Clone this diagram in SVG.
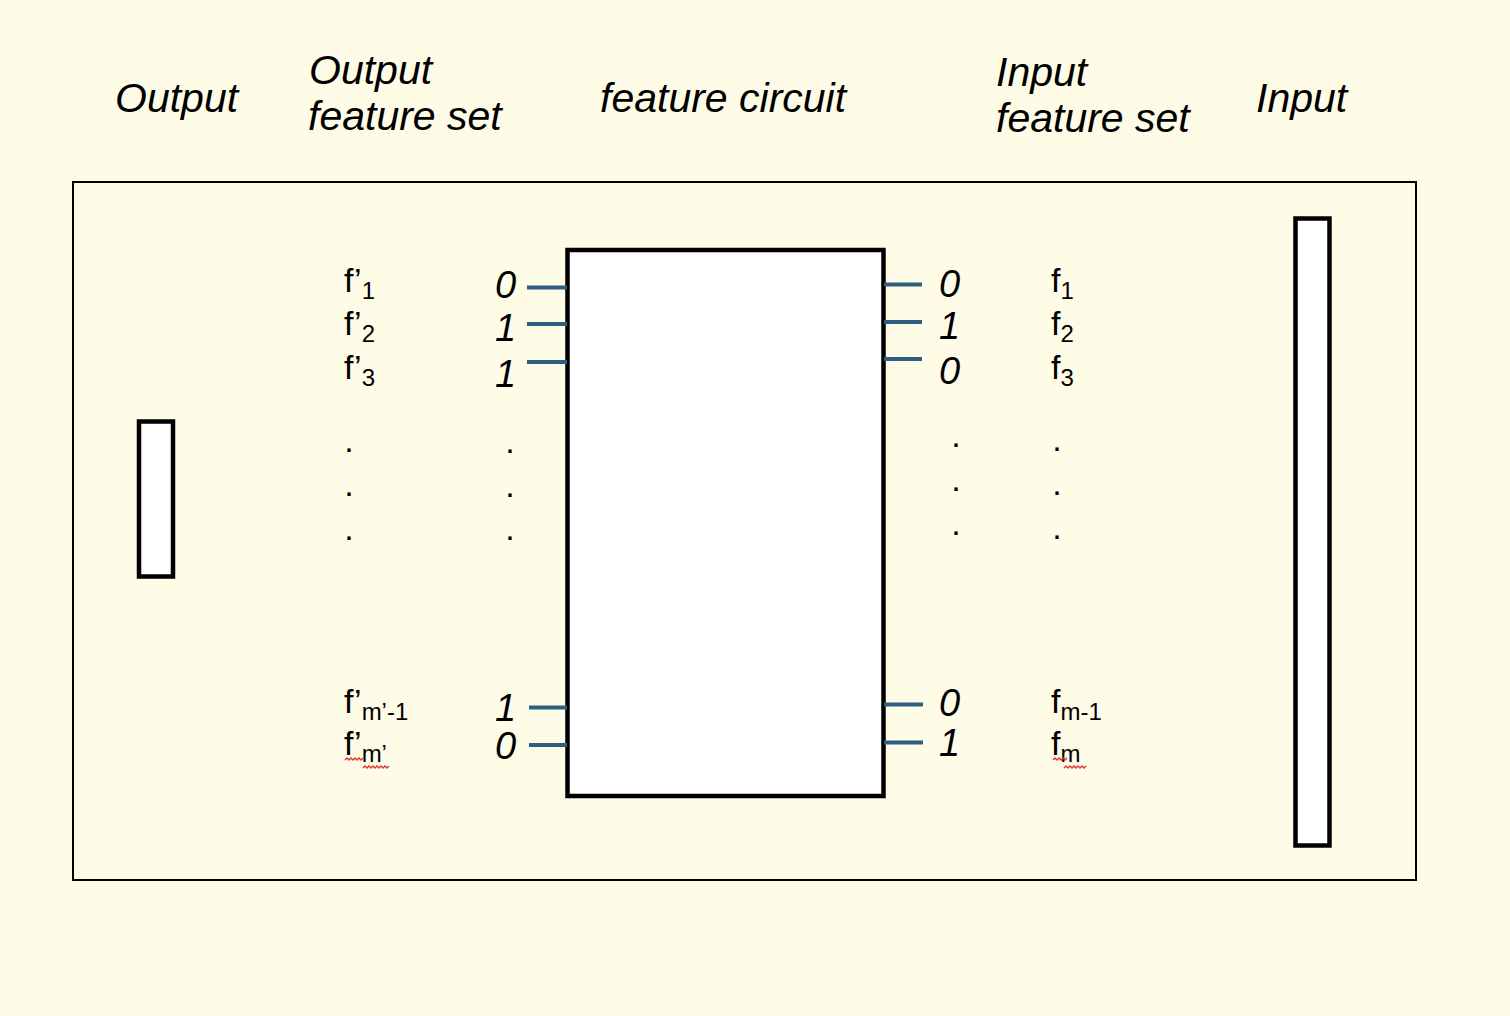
<svg xmlns="http://www.w3.org/2000/svg" width="1510" height="1016" viewBox="0 0 1510 1016">
<style>
.bg{fill:#FEFBE6}
.frame{fill:none;stroke:#000;stroke-width:2}
.box{fill:#fff;stroke:#000;stroke-width:4.5}
.wire{stroke:#2F5F80;stroke-width:4;fill:none}
.head{font-family:"Liberation Sans",Arial,sans-serif;font-style:italic;font-size:41px;fill:#000}
.bit{font-family:"Liberation Sans",Arial,sans-serif;font-style:italic;font-size:38px;fill:#000}
.lab{font-family:"Liberation Sans",Arial,sans-serif;font-size:34px;fill:#000}
.sub{font-size:24px}
.dot{font-family:"Liberation Sans",Arial,sans-serif;font-size:34px;fill:#000;text-anchor:middle}
.squig{fill:none;stroke:#E03030;stroke-width:1.3}
</style>
<rect class="bg" x="0" y="0" width="1510" height="1016"/>
<g id="headings">
<text class="head" x="115" y="112">Output</text>
<text class="head" x="309" y="84">Output</text>
<text class="head" x="308" y="130">feature set</text>
<text class="head" x="600" y="112">feature circuit</text>
<text class="head" x="996" y="86">Input</text>
<text class="head" x="996" y="132">feature set</text>
<text class="head" x="1256" y="112">Input</text>
</g>
<g id="frame"><rect class="frame" x="73" y="182" width="1343" height="698"/></g>
<g id="output"><rect class="box" x="139" y="421.5" width="34" height="155"/></g>
<g id="input"><rect class="box" x="1295.5" y="218.5" width="34" height="627"/></g>
<g id="circuit"><rect class="box" x="567.5" y="250" width="316" height="546"/></g>
<g id="connectors">
<line class="wire" x1="527" y1="287.5" x2="567" y2="287.5"/>
<line class="wire" x1="527" y1="324" x2="567" y2="324"/>
<line class="wire" x1="527" y1="362" x2="567" y2="362"/>
<line class="wire" x1="529" y1="707.5" x2="567" y2="707.5"/>
<line class="wire" x1="529" y1="745" x2="567" y2="745"/>
<line class="wire" x1="884" y1="284.5" x2="922" y2="284.5"/>
<line class="wire" x1="884" y1="322" x2="922" y2="322"/>
<line class="wire" x1="884" y1="359" x2="922" y2="359"/>
<line class="wire" x1="884" y1="704.5" x2="923" y2="704.5"/>
<line class="wire" x1="884" y1="742.5" x2="923" y2="742.5"/>
</g>
<g id="output-bits">
<text class="bit" x="495" y="298">0</text>
<text class="bit" x="495" y="341">1</text>
<text class="bit" x="495" y="387">1</text>
<text class="bit" x="495" y="721">1</text>
<text class="bit" x="495" y="759">0</text>
</g>
<g id="input-bits">
<text class="bit" x="939" y="297">0</text>
<text class="bit" x="939" y="339">1</text>
<text class="bit" x="939" y="384">0</text>
<text class="bit" x="939" y="716">0</text>
<text class="bit" x="939" y="756">1</text>
</g>
<g id="output-features">
<text class="lab" x="344" y="292">f’<tspan class="sub" dy="7">1</tspan></text>
<text class="lab" x="344" y="335">f’<tspan class="sub" dy="7">2</tspan></text>
<text class="lab" x="344" y="379">f’<tspan class="sub" dy="7">3</tspan></text>
<text class="lab" x="344" y="713">f’<tspan class="sub" dy="7">m’-1</tspan></text>
<text class="lab" x="344" y="755">f’<tspan class="sub" dy="7">m’</tspan></text>
</g>
<g id="input-features">
<text class="lab" x="1051" y="292">f<tspan class="sub" dy="7">1</tspan></text>
<text class="lab" x="1051" y="335">f<tspan class="sub" dy="7">2</tspan></text>
<text class="lab" x="1051" y="379">f<tspan class="sub" dy="7">3</tspan></text>
<text class="lab" x="1051" y="713">f<tspan class="sub" dy="7">m-1</tspan></text>
<text class="lab" x="1051" y="755">f<tspan class="sub" dy="7">m</tspan></text>
</g>
<g id="dots">
<text class="dot" x="349" y="452">.</text>
<text class="dot" x="349" y="496">.</text>
<text class="dot" x="349" y="540">.</text>
<text class="dot" x="510" y="453">.</text>
<text class="dot" x="510" y="497">.</text>
<text class="dot" x="510" y="540">.</text>
<text class="dot" x="956" y="447">.</text>
<text class="dot" x="956" y="491">.</text>
<text class="dot" x="956" y="535">.</text>
<text class="dot" x="1057" y="451">.</text>
<text class="dot" x="1057" y="495">.</text>
<text class="dot" x="1057" y="539">.</text>
</g>
<g id="spellcheck">
<path class="squig" d="M345 760 l2 -2 l2 2 l2 -2 l2 2 l2 -2 l2 2 l2 -2 l2 2 l2 -2"/>
<path class="squig" d="M363 768 l2 -2 l2 2 l2 -2 l2 2 l2 -2 l2 2 l2 -2 l2 2 l2 -2 l2 2 l2 -2 l2 2 l2 -2"/>
<path class="squig" d="M1053 760 l2 -2 l2 2 l2 -2 l2 2 l2 -2 l2 2 l2 -2"/>
<path class="squig" d="M1064 768 l2 -2 l2 2 l2 -2 l2 2 l2 -2 l2 2 l2 -2 l2 2 l2 -2 l2 2 l2 -2"/>
</g>
</svg>
